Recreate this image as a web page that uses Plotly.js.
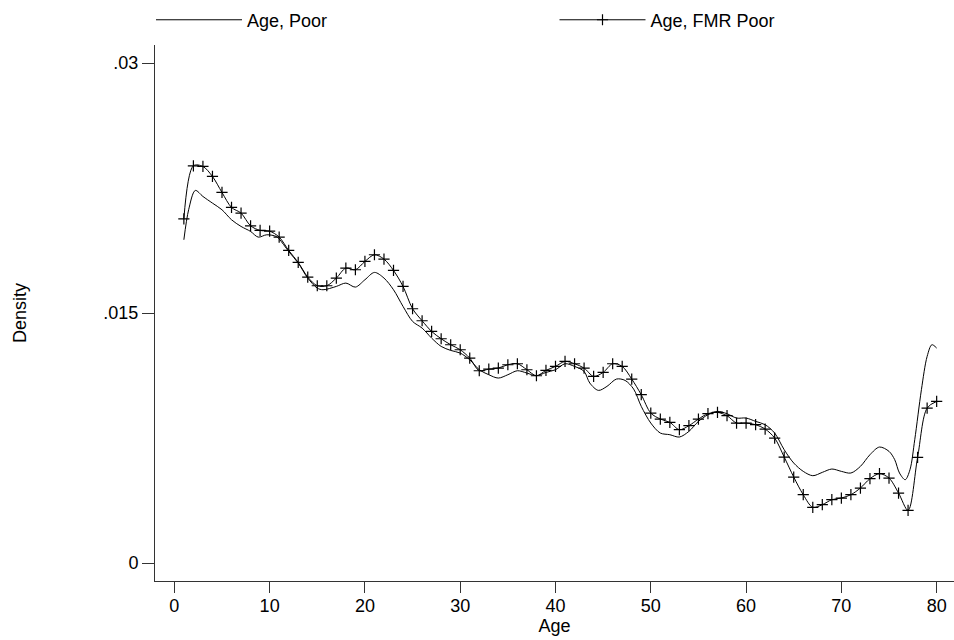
<!DOCTYPE html>
<html>
<head>
<meta charset="utf-8">
<script src="https://cdn.plot.ly/plotly-3.0.1.min.js"></script>
<style>html,body{margin:0;padding:0;background:#fff;}#chart{width:954px;height:640px;}</style>
</head>
<body>
<div id="chart"></div>
<script>
// Series: "Age, Poor" (smooth density, read at irregular ages)
const poorAge = [1, 1.5, 2.2, 3, 4, 5, 6, 7, 8, 8.8, 9.7, 10.7, 11, 12, 13, 14, 15, 15.6, 17, 18, 19, 20, 21, 22, 23, 24, 25, 26, 27, 28, 29, 30, 31, 32, 33, 34, 35, 36, 37, 38, 39, 40, 41, 42, 43, 43.6, 44.5, 45.4, 46.4, 47.3, 48.2, 49, 50, 51, 52, 53, 54, 55, 56, 57, 58, 59, 60, 61, 62, 63, 64, 65, 66, 67, 68, 69, 70, 71, 72, 73, 74, 75, 75.6, 76.1, 76.7, 77.2, 77.7, 78.4, 79, 79.5, 80];
const poorDensity = [0.0194, 0.0212, 0.02236, 0.0220, 0.0216, 0.0212, 0.0206, 0.0202, 0.0199, 0.01956, 0.0197, 0.0196, 0.01945, 0.0187, 0.0180, 0.0171, 0.0165, 0.0164, 0.0166, 0.0168, 0.01656, 0.0170, 0.01744, 0.0171, 0.0164, 0.0154, 0.0145, 0.0141, 0.0135, 0.0130, 0.01276, 0.0126, 0.0122, 0.0116, 0.0113, 0.0111, 0.0113, 0.01154, 0.0114, 0.01124, 0.01144, 0.0116, 0.01196, 0.0118, 0.0115, 0.0108, 0.01036, 0.0106, 0.01104, 0.01096, 0.01044, 0.0094, 0.0084, 0.0078, 0.0077, 0.00756, 0.0079, 0.0085, 0.0089, 0.0091, 0.00896, 0.0087, 0.0087, 0.0085, 0.0083, 0.0078, 0.0068, 0.0060, 0.0055, 0.00524, 0.00544, 0.00564, 0.0055, 0.0054, 0.0058, 0.0065, 0.00696, 0.0067, 0.0062, 0.0054, 0.0050, 0.0056, 0.0074, 0.0104, 0.0124, 0.0131, 0.0129];

// Series: "Age, FMR Poor" (marked at each integer age)
const fmrAge = [1,2,3,4,5,6,7,8,9,10,11,12,13,14,15,16,17,18,19,20,21,22,23,24,25,26,27,28,29,30,31,32,33,34,35,36,37,38,39,40,41,42,43,44,45,46,47,48,49,50,51,52,53,54,55,56,57,58,59,60,61,62,63,64,65,66,67,68,69,70,71,72,73,74,75,76,77,78,79,80];
const fmrDensity = [0.02066, 0.02384, 0.0238, 0.0232, 0.02224, 0.02134, 0.0210, 0.02024, 0.01996, 0.01992, 0.01956, 0.01876, 0.01804, 0.01716, 0.01664, 0.01664, 0.0171, 0.0177, 0.0176, 0.0181, 0.0185, 0.01824, 0.01756, 0.0166, 0.01526, 0.01454, 0.0139, 0.01346, 0.0131, 0.0128, 0.0123, 0.01154, 0.01164, 0.0117, 0.0119, 0.01196, 0.0116, 0.01124, 0.01156, 0.0118, 0.0121, 0.01196, 0.0117, 0.0112, 0.01144, 0.01196, 0.0118, 0.01104, 0.0101, 0.0090, 0.00864, 0.00844, 0.0080, 0.00824, 0.00864, 0.00896, 0.00904, 0.00884, 0.0084, 0.0084, 0.0083, 0.00804, 0.0075, 0.00636, 0.00516, 0.0041, 0.00334, 0.0035, 0.0038, 0.0039, 0.0041, 0.0045, 0.00506, 0.00536, 0.0051, 0.0042, 0.00316, 0.00634, 0.0093, 0.0097];

const seriesNames = ["Age, Poor", "Age, FMR Poor"];
const xTickVals = [0, 10, 20, 30, 40, 50, 60, 70, 80];
const yTickVals = [0, 0.015, 0.03];
const yTickText = ["0", ".015", ".03"];

const FONT = "Liberation Sans, Arial, sans-serif";

const traces = [
  {
    x: poorAge, y: poorDensity, name: seriesNames[0], legend: "legend",
    type: "scatter", mode: "lines",
    line: {color: "#000", width: 1, shape: "spline", smoothing: 0.9}
  },
  {
    x: fmrAge, y: fmrDensity, name: seriesNames[1], legend: "legend2",
    type: "scatter", mode: "lines+markers",
    line: {color: "#000", width: 1, shape: "spline", smoothing: 0.9},
    marker: {symbol: "cross-thin", size: 8, color: "#000", line: {color: "#000", width: 1.2}}
  }
];

const legendBase = {
  orientation: "h", xanchor: "left", y: 1.012, yanchor: "bottom",
  itemwidth: 86, font: {family: FONT, size: 18, color: "#000"},
  bgcolor: "rgba(0,0,0,0)", borderwidth: 0
};

const layout = {
  width: 954, height: 640,
  paper_bgcolor: "#fff", plot_bgcolor: "#fff",
  margin: {l: 155, r: 0, t: 45, b: 59, pad: 0, autoexpand: false},
  font: {family: FONT, size: 18, color: "#000"},
  showlegend: true,
  legend: Object.assign({}, legendBase, {x: -0.005}),
  legend2: Object.assign({}, legendBase, {x: 0.5}),
  xaxis: {
    range: [-2.03, 81.82], tickmode: "array", tickvals: xTickVals,
    showgrid: false, zeroline: false, showline: true, linecolor: "#333", linewidth: 1,
    ticks: "outside", ticklen: 11, tickwidth: 1, tickcolor: "#333",
    ticklabelstandoff: -3,
    tickfont: {family: FONT, size: 18, color: "#000"},
    title: {text: "Age", font: {family: FONT, size: 18, color: "#000"}, standoff: 0}
  },
  yaxis: {
    range: [-0.00108, 0.03109], tickmode: "array", tickvals: yTickVals, ticktext: yTickText,
    showgrid: false, zeroline: false, showline: true, linecolor: "#333", linewidth: 1,
    ticks: "outside", ticklen: 12, tickwidth: 1, tickcolor: "#333",
    tickfont: {family: FONT, size: 18, color: "#000"},
    title: {text: "Density", font: {family: FONT, size: 18, color: "#000"}, standoff: 72}
  }
};

Plotly.newPlot("chart", traces, layout, {displayModeBar: false, staticPlot: true});
</script>
</body>
</html>
